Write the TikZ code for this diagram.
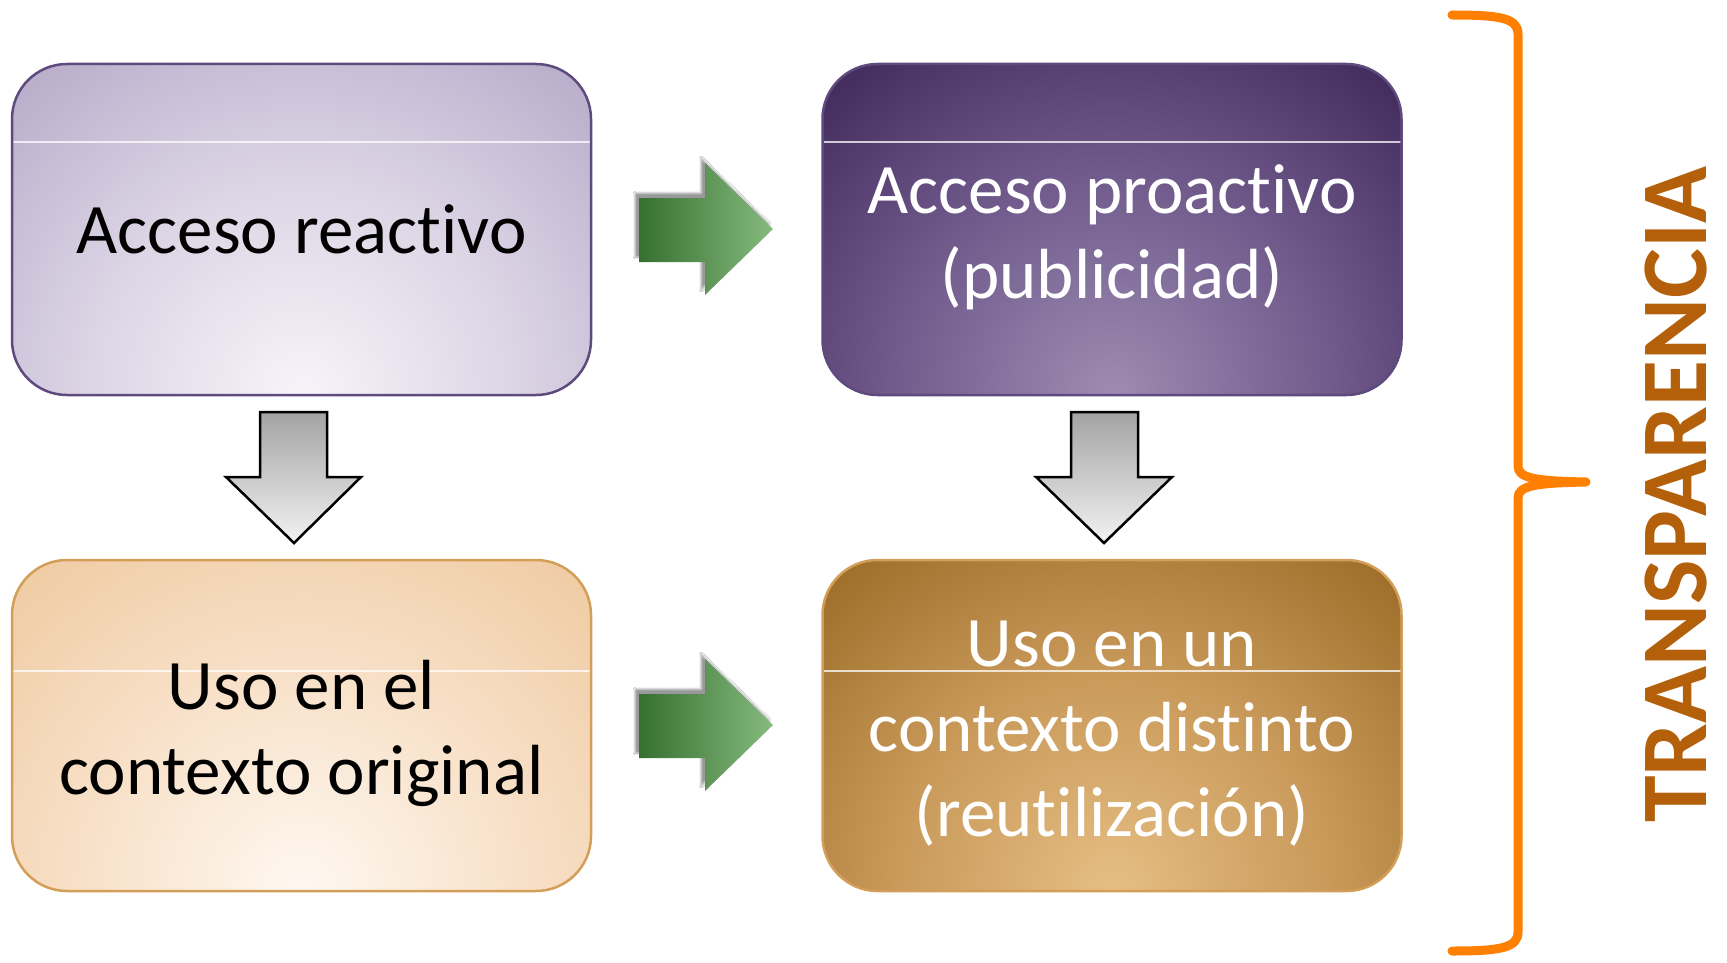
\documentclass[tikz,border=0pt]{standalone}
\usepackage{fontspec}
\setmainfont{Carlito}[Ligatures={NoCommon,NoContextual,NoRequired}]
\usetikzlibrary{shadows.blur}
\definecolor{lavIn}{HTML}{F6F4F9}
\definecolor{lavMid}{HTML}{DCD5E5}
\definecolor{lavOut}{HTML}{B8ACCA}
\definecolor{purIn}{HTML}{9E8CB2}
\definecolor{purMid}{HTML}{715C8D}
\definecolor{purOut}{HTML}{3F2A5B}
\definecolor{peaIn}{HTML}{FEF8F1}
\definecolor{peaMid}{HTML}{F8E1C9}
\definecolor{peaOut}{HTML}{EFCBA2}
\definecolor{golIn}{HTML}{E6BE84}
\definecolor{golMid}{HTML}{C99A5A}
\definecolor{golOut}{HTML}{9C6C28}
\definecolor{purBorder}{HTML}{5F4A7E}
\definecolor{golBorder}{HTML}{D39E58}
\definecolor{grDark}{HTML}{367030}
\definecolor{grLight}{HTML}{86BA7E}
\definecolor{braceOr}{HTML}{FF8000}
\definecolor{transTxt}{HTML}{B4600B}
\pgfdeclareradialshading{lavrad}{\pgfpoint{0bp}{0bp}}{color(0bp)=(lavIn); color(12.5bp)=(lavMid); color(25bp)=(lavOut); color(100bp)=(lavOut)}
\pgfdeclareradialshading{purrad}{\pgfpoint{0bp}{0bp}}{color(0bp)=(purIn); color(12.5bp)=(purMid); color(25bp)=(purOut); color(100bp)=(purOut)}
\pgfdeclareradialshading{pearad}{\pgfpoint{0bp}{0bp}}{color(0bp)=(peaIn); color(12.5bp)=(peaMid); color(25bp)=(peaOut); color(100bp)=(peaOut)}
\pgfdeclareradialshading{golrad}{\pgfpoint{0bp}{0bp}}{color(0bp)=(golIn); color(12.5bp)=(golMid); color(25bp)=(golOut); color(100bp)=(golOut)}
\tikzset{
  box/.style={line width=2.5pt, rounded corners=55pt, minimum width=579pt,
    minimum height=331pt, inner sep=0pt},
  boxtext/.style={inner sep=0pt, align=center, font=\fontsize{71}{85}\selectfont},
  boxshade/.style n args={3}{fill=#2, path picture={
    \shade[shading=#1] (path picture bounding box.south) circle (430pt);
    \draw[white, line width=1.2pt, opacity=.75]
      ([yshift=-#3]path picture bounding box.north west) --
      ([yshift=-#3]path picture bounding box.north east);}},
  greenarrow/.style={left color=grDark, right color=grLight,
    blur shadow={shadow xshift=-4pt, shadow yshift=5pt, shadow blur steps=6, shadow opacity=40}},
  downarrow/.style={draw=black, line width=2.5pt, line join=miter,
    top color=black!36, bottom color=black!5},
  bracestyle/.style={draw=braceOr, line width=9pt, line join=round, line cap=round}
}
\begin{document}
\begin{tikzpicture}[x=1pt,y=-1pt]
\useasboundingbox[fill=white] (0,0) rectangle (1727,963);

\node[box, draw=purBorder, boxshade={lavrad}{lavOut}{78pt}] (b1) at (301.5,229.5) {};
\node[box, draw=purBorder, boxshade={purrad}{purOut}{78pt}] (b2) at (1112,229.5) {};
\node[box, draw=golBorder, boxshade={pearad}{peaOut}{111pt}] (b3) at (301.5,725.5) {};
\node[box, draw=golBorder, boxshade={golrad}{golOut}{111pt}] (b4) at (1112,725.5) {};

\node[boxtext, text=black] (t1) at (b1.center) {Acceso reactivo};
\node[boxtext, text=white] (t2) at ([yshift=-8pt]b2.center) {Acceso proactivo\\(publicidad)};
\node[boxtext, text=black] (t3) at ([yshift=-8pt]b3.center) {Uso en el\\contexto original};
\node[boxtext, text=white] (t4) at ([yshift=-8pt]b4.center) {Uso en un\\contexto distinto\\(reutilización)};

% green arrows
\path[greenarrow] (639,198) -- (705,198) -- (705,163) -- (773,229) -- (705,295) -- (705,262) -- (639,262) -- cycle;
\path[greenarrow] (639,694) -- (705,694) -- (705,659) -- (773,725) -- (705,791) -- (705,758) -- (639,758) -- cycle;

% down arrows
\path[downarrow] (260,412) -- (327,412) -- (327,477) -- (361,477) -- (294,543) -- (226,477) -- (260,477) -- cycle;
\path[downarrow] (1071,412) -- (1138,412) -- (1138,477) -- (1172,477) -- (1104,543) -- (1036,477) -- (1071,477) -- cycle;

% brace
\path[bracestyle] (1452,15) .. controls (1500,15) and (1518,18) .. (1518,34) -- (1518,466)
  .. controls (1518,478) and (1534,481) .. (1586,482)
  .. controls (1534,483) and (1518,486) .. (1518,498) -- (1518,932)
  .. controls (1518,948) and (1500,951) .. (1452,951);

\node[rotate=90, text=transTxt, font=\fontsize{94}{94}\selectfont\bfseries, inner sep=0pt] (trans) at (1676,495) {TRANSPARENCIA};
\end{tikzpicture}
\end{document}
